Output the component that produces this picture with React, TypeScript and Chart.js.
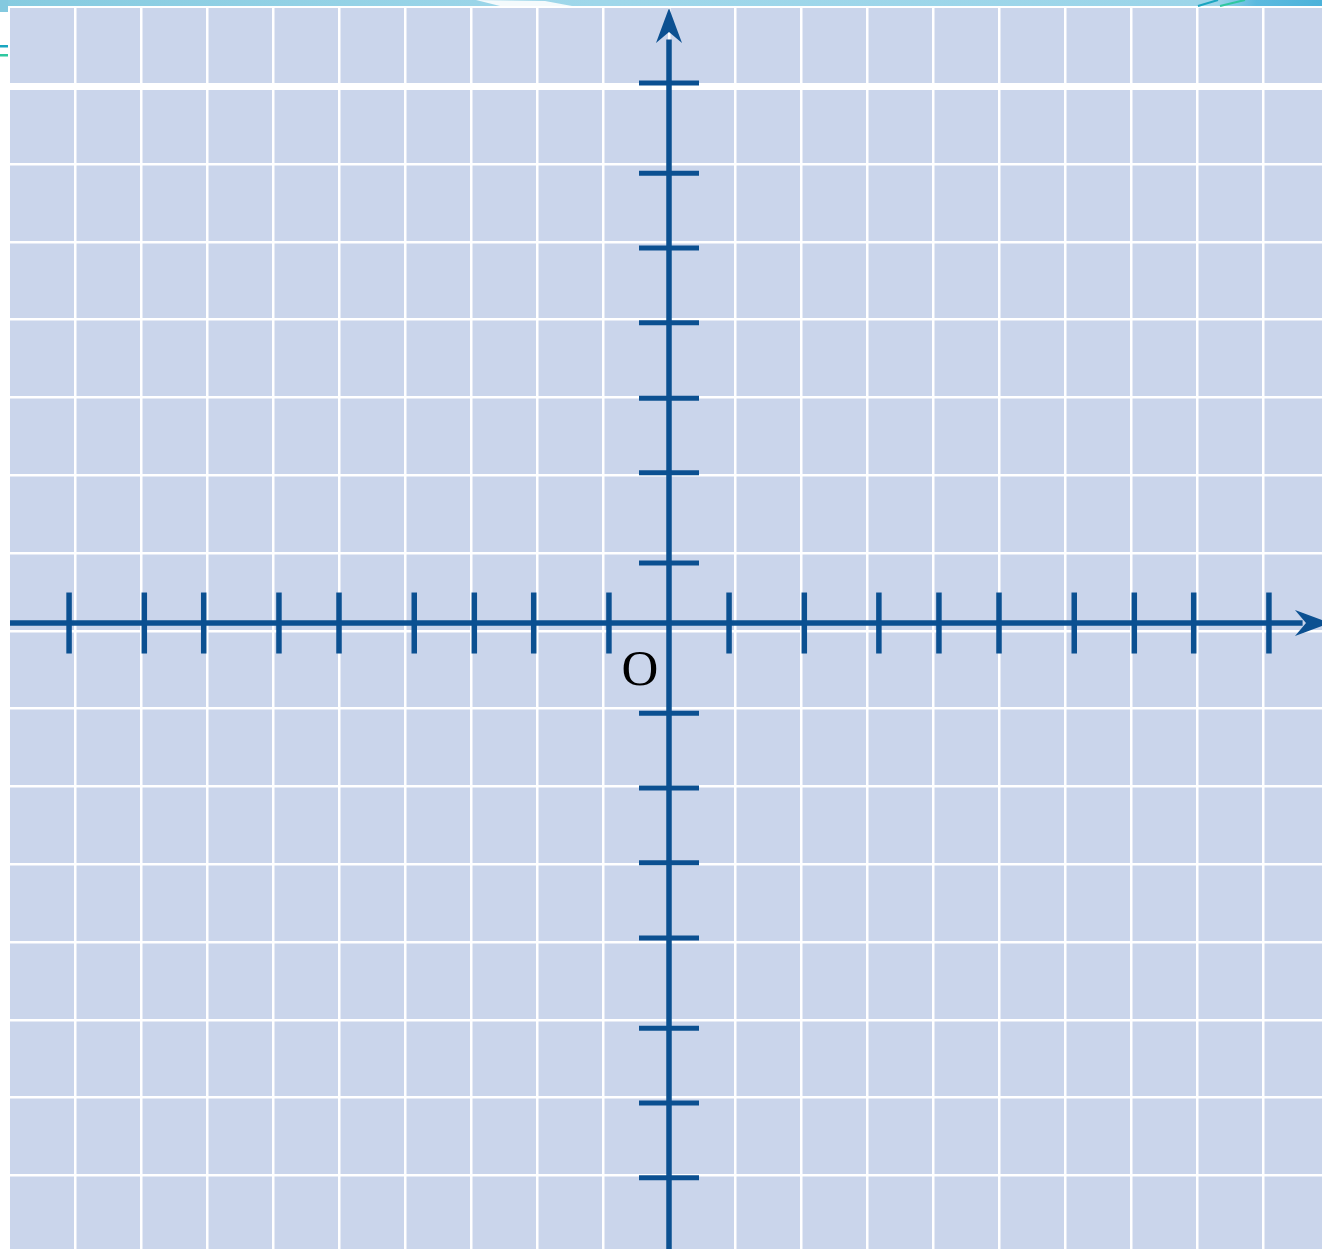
import { useEffect, useRef } from "react";
import { Chart, registerables } from "chart.js";

Chart.register(...registerables);

// ---- data (x in grid columns, y in grid rows; origin at the axes crossing) ----
const xRange = [-9.985, 9.894];
const yRange = [-8.046, 7.905];
const xGridLines = [-9, -8, -7, -6, -5, -4, -3, -2, -1, 0, 1, 2, 3, 4, 5, 6, 7, 8, 9];
const yGridLines = [6.9, 5.9, 4.9, 3.9, 2.9, 1.9, 0.9, -0.1, -1.1, -2.1, -3.1, -4.1, -5.1, -6.1, -7.1];
const xTickMarks = [-9.09, -7.95, -7.05, -5.91, -5.0, -3.86, -2.95, -2.05, -0.91, 0.91, 2.05, 3.18, 4.09, 5.0, 6.14, 7.05, 7.95, 9.09];
const yTickMarks = [6.94, 5.78, 4.82, 3.86, 2.89, 1.93, 0.77, -1.16, -2.12, -3.08, -4.05, -5.21, -6.17, -7.13];
const xAxisSpan = [-10.0, 9.6];
const yAxisSpan = [-8.1, 7.5];
const xArrowTip = 10.015;
const yArrowTip = 7.905;
const originLabel = "O";
const originLabelAt = [-0.44, -0.8];

// ---- styles ----
const W = 1322;
const H = 1249;
const AXIS = "#0b5091";
const PANEL = "#cad5eb";

function makeArrowHead(color: string): HTMLCanvasElement {
  const L = 35;
  const half = 13;
  const notch = 24;
  const s = 2 * L + 4;
  const c = document.createElement("canvas");
  c.width = s;
  c.height = s;
  const g = c.getContext("2d")!;
  const cx = s / 2;
  const cy = s / 2;
  g.fillStyle = color;
  g.beginPath();
  g.moveTo(cx, cy);
  g.lineTo(cx + half, cy + L);
  g.lineTo(cx, cy + notch);
  g.lineTo(cx - half, cy + L);
  g.closePath();
  g.fill();
  return c;
}

const backgroundPlugin = {
  id: "panelBackground",
  beforeDraw(chart: any) {
    const { ctx, chartArea: a } = chart;
    ctx.save();
    ctx.fillStyle = "#ffffff";
    ctx.fillRect(0, 0, W, H);
    // decorative top band
    const grad = ctx.createLinearGradient(0, 0, W, 0);
    grad.addColorStop(0, "#86cbe0");
    grad.addColorStop(0.45, "#9fd7ea");
    grad.addColorStop(0.92, "#9cd5e9");
    grad.addColorStop(0.95, "#5cbadf");
    grad.addColorStop(1, "#4cb2da");
    ctx.fillStyle = grad;
    ctx.fillRect(0, 0, W, 6);
    ctx.fillStyle = "#84c9df";
    ctx.fillRect(0, 0, 8, 12);
    // white swoosh in the band
    ctx.fillStyle = "#f4fafc";
    ctx.beginPath();
    ctx.moveTo(476, 0);
    ctx.lineTo(545, 1);
    ctx.lineTo(572, 6);
    ctx.lineTo(500, 6);
    ctx.closePath();
    ctx.fill();
    // small teal strokes
    ctx.fillStyle = "#1aa6c0";
    ctx.fillRect(0, 45, 8, 2.5);
    ctx.fillStyle = "#2fc8a0";
    ctx.fillRect(0, 54, 8, 2.5);
    ctx.strokeStyle = "#1aa6c0";
    ctx.lineWidth = 2;
    ctx.beginPath();
    ctx.moveTo(1198, 6);
    ctx.lineTo(1218, 0);
    ctx.stroke();
    ctx.strokeStyle = "#2fc8a0";
    ctx.beginPath();
    ctx.moveTo(1220, 6);
    ctx.lineTo(1245, 0);
    ctx.stroke();
    // panel
    ctx.fillStyle = PANEL;
    ctx.fillRect(a.left, a.top, a.right - a.left, a.bottom - a.top);
    ctx.restore();
  },
};

const originLabelPlugin = {
  id: "originLabel",
  afterDatasetsDraw(chart: any) {
    const { ctx } = chart;
    const x = chart.scales.x.getPixelForValue(originLabelAt[0]);
    const y = chart.scales.y.getPixelForValue(originLabelAt[1]);
    ctx.save();
    ctx.font = '51px "Liberation Serif", "Times New Roman", serif';
    ctx.fillStyle = "#000000";
    ctx.textAlign = "center";
    ctx.textBaseline = "alphabetic";
    ctx.fillText(originLabel, x, y);
    ctx.restore();
  },
};

export default function App() {
  const ref = useRef<HTMLCanvasElement | null>(null);

  useEffect(() => {
    document.body.style.margin = "0";
    const canvas = ref.current;
    if (!canvas) return;
    const arrow = makeArrowHead(AXIS);

    const chart = new Chart(canvas, {
      type: "scatter",
      data: {
        datasets: [
          {
            label: "x axis",
            data: [
              { x: xAxisSpan[0], y: 0 },
              { x: xAxisSpan[1], y: 0 },
            ],
            showLine: true,
            borderColor: AXIS,
            borderWidth: 5.5,
            borderCapStyle: "butt",
            pointRadius: 0,
          },
          {
            label: "y axis",
            data: [
              { x: 0, y: yAxisSpan[0] },
              { x: 0, y: yAxisSpan[1] },
            ],
            showLine: true,
            borderColor: AXIS,
            borderWidth: 5.5,
            borderCapStyle: "butt",
            pointRadius: 0,
          },
          {
            label: "x ticks",
            data: xTickMarks.map((x) => ({ x, y: 0 })),
            pointStyle: "line",
            pointRotation: 90,
            pointRadius: 30.5,
            pointBorderWidth: 5.5,
            borderColor: AXIS,
            backgroundColor: AXIS,
            pointBorderColor: AXIS,
          },
          {
            label: "y ticks",
            data: yTickMarks.map((y) => ({ x: 0, y })),
            pointStyle: "line",
            pointRotation: 0,
            pointRadius: 30,
            pointBorderWidth: 5,
            borderColor: AXIS,
            backgroundColor: AXIS,
            pointBorderColor: AXIS,
          },
          {
            label: "arrows",
            data: [
              { x: 0, y: yArrowTip },
              { x: xArrowTip, y: 0 },
            ],
            pointStyle: arrow as any,
            pointRotation: [0, 90] as any,
            pointRadius: 20,
            pointBorderWidth: 0,
          },
        ] as any,
      },
      options: {
        animation: false,
        responsive: false,
        events: [],
        layout: { autoPadding: false, padding: { left: 10, top: 8, right: 0, bottom: 0 } },
        plugins: {
          legend: { display: false },
          tooltip: { enabled: false },
        },
        scales: {
          x: {
            type: "linear",
            min: xRange[0],
            max: xRange[1],
            afterBuildTicks: (s: any) => {
              s.ticks = xGridLines.map((v) => ({ value: v }));
            },
            ticks: { display: false },
            border: { display: false },
            grid: { color: "#ffffff", lineWidth: 2.5, drawTicks: false },
          },
          y: {
            type: "linear",
            min: yRange[0],
            max: yRange[1],
            afterBuildTicks: (s: any) => {
              s.ticks = yGridLines.map((v) => ({ value: v }));
            },
            ticks: { display: false },
            border: { display: false },
            grid: {
              color: "#ffffff",
              lineWidth: (c: any) => (c.tick && c.tick.value === yGridLines[0] ? 7 : 2.5),
              drawTicks: false,
            },
          },
        },
      } as any,
      plugins: [backgroundPlugin, originLabelPlugin],
    });

    return () => chart.destroy();
  }, []);

  return (
    <div style={{ position: "absolute", left: 0, top: 0, width: W, height: H }}>
      <canvas ref={ref} width={W} height={H} style={{ display: "block" }} />
    </div>
  );
}
